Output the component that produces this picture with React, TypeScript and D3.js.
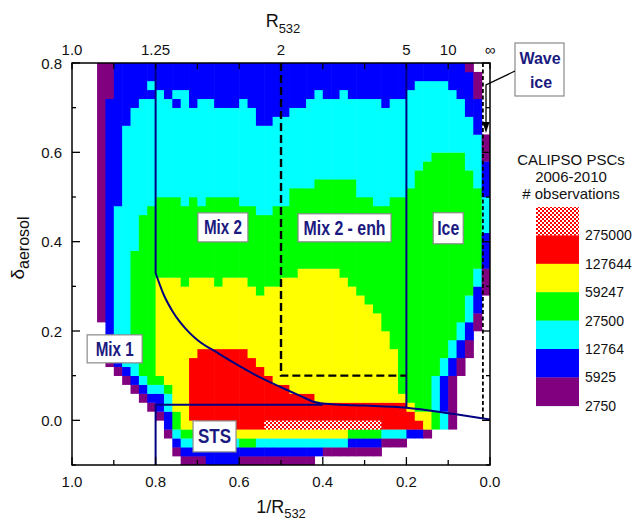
import React from "react";
import * as d3 from "d3";

const W = 636;
const H = 525;
const M = { left: 72, right: 490, top: 63, bottom: 465 };

// Histogram bins: 1/R532 in steps of 0.02 from 1.0 (column 0) to 0.0,
// δaerosol in steps of 0.02 from -0.1 upward (45 rows).
const INV_R_STEP = 0.02;
const DELTA_MIN = -0.1;
const DELTA_STEP = 0.02;

// Each column is a run-length list of count classes from the lowest δ bin upward:
// '.' none, p >=2750, b >=5925, c >=12764, g >=27500, y >=59247, r >=127644, h >=275000
const densityColumns: string[] = [
  ".45",
  ".45",
  ".45",
  ".16p29",
  ".11p1b29p4",
  ".10p1b1c17b16",
  ".9p1b1c27b7",
  ".8p1b1c2g12c16b5",
  ".7p1b1c1g18c13b4",
  ".6p1b1c1g20c12b1c1b2",
  ".5p1b2c1g1y11g9c12b3",
  ".3p1b2c2g1y12g9c11b4",
  ".1p1b1c1g2y15g9c10b1c1b3",
  "p1b1c1g1y16g9c13b3",
  "p1b1c1g1y1r7y9g9c10b5",
  "p1b1c1y1r9y8g8c12b4",
  "b2c1y1r9y8g9c11b4",
  "b2c1y1r9y7g10c10b5",
  "b2c1y1r9y8g9c10b5",
  "b2c1y1r9y8g9c10b5",
  "p1b1g1y1r9y8g8c12b4",
  "p1b1g1y1r8y8g9c11b5",
  "p1b1c1y1r7y8g9c10b7",
  "p1b1c1y1h1r5y10g8c10b7",
  "p1b1c1y1h1r4y11g9c10b6",
  "p1b1c1y1h1r4y12g8c10b6",
  "p1b1c1y1h1r3y13g10c9b5",
  "p1b1c1y1h1r3y14g9c9b5",
  "p1b1c1y1h1r3y14g9c10b4",
  ".1b1c1y1h1r2y15g10c10b3",
  ".1p1c1y1h1r2y15g10c9b4",
  ".1p1c1y1h1r2y15g10c9b4",
  ".1p1c1y1h1r2y14g11c10b3",
  ".1p1b1g1h1r2y13g12c9b4",
  ".1p1b1g1h1r2y12g11c11b4",
  ".1p1b1g1h1r2y11g12c11b4",
  ".1p1b1g1h1r2y10g12c12b4",
  ".2p1c1r3y8g14c11b5",
  ".2p1c1r3y6g17c11b4",
  ".2p1c1r3y1g22c11b4",
  ".3b1r2y1g24c11b3",
  ".3b1r1y1g27c10b2",
  ".3p1y2g28c9b2",
  ".4g2c4g25c8b2",
  ".4c2b4c2g23c8b2",
  ".4p6b2c2g21c7b3",
  ".10p2b2c2g19c6b4",
  ".12p2b2c3g14c6b5p1",
  ".15p2b3c2g9c6b4p3.1",
  ".19p3b4c4b4p3.8",
];

const levelColors: Record<string, string> = {
  p: "#800080",
  b: "#0000ff",
  c: "#00ffff",
  g: "#00ff00",
  y: "#ffff00",
  r: "#ff0000",
  h: "url(#hatch)",
};

// Legend, top to bottom, with the class boundary printed under each swatch
const legendCodes = ["h", "r", "y", "g", "c", "b", "p"];
const legendLabels = ["275000", "127644", "59247", "27500", "12764", "5925", "2750"];
const legendTitle = ["CALIPSO PSCs", "2006-2010", "# observations"];

// Axis labels
const invRLabels = [1.0, 0.8, 0.6, 0.4, 0.2, 0.0];
const rLabels: [number, string][] = [
  [1.0, "1.0"],
  [0.8, "1.25"],
  [0.5, "2"],
  [0.2, "5"],
  [0.1, "10"],
  [0.0, "\u221e"],
];
const deltaLabels = [0.8, 0.6, 0.4, 0.2, 0.0];

// Detection-threshold boundary (1/R532, δaerosol)
const thresholdCurve: [number, number][] = [
  [0.8, 0.33],
  [0.78, 0.28],
  [0.76, 0.245],
  [0.74, 0.218],
  [0.72, 0.197],
  [0.7, 0.18],
  [0.65, 0.15],
  [0.6, 0.122],
  [0.55, 0.096],
  [0.5, 0.074],
  [0.45, 0.053],
  [0.42, 0.041],
  [0.38, 0.036],
  [0.3, 0.033],
  [0.2, 0.028],
  [0.1, 0.016],
  [0.0, 0.002],
];

// Composition classes: label, centre (1/R532, δaerosol), box size
const regionLabels = [
  { text: "Mix 1", u: 0.898, d: 0.16, w: 55, h: 28, len: 38 },
  { text: "Mix 2", u: 0.639, d: 0.432, w: 50, h: 29, len: 38 },
  { text: "Mix 2 - enh", u: 0.348, d: 0.431, w: 93, h: 28, len: 82 },
  { text: "Ice", u: 0.1, d: 0.43, w: 30, h: 31, len: 22 },
  { text: "STS", u: 0.659, d: -0.036, w: 43, h: 31, len: 33 },
];

const NAVY = "#000080";
const LABEL_INK = "#1a1a80";
const FONT = "Arial, 'Liberation Sans', Helvetica, sans-serif";

export default function App() {
  const x = d3.scaleLinear().domain([1, 0]).range([M.left, M.right]);
  const y = d3.scaleLinear().domain([DELTA_MIN, 0.8]).range([M.bottom, M.top]);

  const cells: { key: string; code: string; x: number; w: number; y: number; h: number }[] = [];
  densityColumns.forEach((col, i) => {
    const x0 = x(1 - i * INV_R_STEP);
    const x1 = x(1 - (i + 1) * INV_R_STEP);
    let row = 0;
    for (const m of col.matchAll(/([.pbcgyrh])(\d+)/g)) {
      const n = +m[2];
      if (m[1] !== ".") {
        const yTop = y(DELTA_MIN + (row + n) * DELTA_STEP);
        const yBot = y(DELTA_MIN + row * DELTA_STEP);
        cells.push({ key: `${i}-${row}`, code: m[1], x: x0, w: x1 - x0, y: yTop, h: yBot - yTop });
      }
      row += n;
    }
  });

  const curvePath = d3
    .line<[number, number]>()
    .x((p) => x(p[0]))
    .y((p) => y(p[1]))
    .curve(d3.curveMonotoneX)(thresholdCurve) as string;

  const tenths = d3.range(0, 11).map((k) => k / 10);
  const deltaTicks = d3.range(-1, 9).map((k) => k / 10);

  const legendX = 536;
  const legendTop = 207;
  const swatchH = 28.4;

  return (
    <svg
      width={W}
      height={H}
      style={{ position: "absolute", left: 0, top: 0, background: "#fff" }}
      fontFamily={FONT}
    >
      <defs>
        <pattern id="hatch" width="4" height="4" patternUnits="userSpaceOnUse">
          <rect width="4" height="4" fill="#ffffff" />
          <rect width="2" height="2" fill="#ff0000" />
          <rect x="2" y="2" width="2" height="2" fill="#ff0000" />
        </pattern>
        <clipPath id="plot-clip">
          <rect x={M.left} y={M.top} width={M.right - M.left} height={M.bottom - M.top} />
        </clipPath>
      </defs>

      {/* density cells */}
      <g clipPath="url(#plot-clip)">
        {cells.map((c) => (
          <rect
            key={c.key}
            x={c.x}
            y={c.y}
            width={c.w + 0.6}
            height={c.h + 0.3}
            fill={levelColors[c.code]}
          />
        ))}
      </g>

      {/* composition boundaries */}
      <g clipPath="url(#plot-clip)" fill="none">
        <line x1={x(0.8)} x2={x(0.8)} y1={y(0.8)} y2={y(0.33)} stroke={NAVY} strokeWidth={2} />
        <path d={curvePath} stroke={NAVY} strokeWidth={2} />
        <polyline
          points={`${x(0.8)},${y(DELTA_MIN)} ${x(0.8)},${y(0.035)} ${x(0.4)},${y(0.035)}`}
          stroke={NAVY}
          strokeWidth={2}
        />
        <line x1={x(0.2)} x2={x(0.2)} y1={y(0.8)} y2={y(0.028)} stroke={NAVY} strokeWidth={2} />
        <polyline
          points={`${x(0.5)},${y(0.8)} ${x(0.5)},${y(0.1)} ${x(0.2)},${y(0.1)}`}
          stroke="#000"
          strokeWidth={2.4}
          strokeDasharray="8,4"
        />
        <line
          x1={x(0.017)}
          x2={x(0.017)}
          y1={y(0.8)}
          y2={y(0.004)}
          stroke="#000"
          strokeWidth={1.8}
          strokeDasharray="4,2.5"
        />
      </g>

      {/* frame */}
      <rect
        x={M.left}
        y={M.top}
        width={M.right - M.left}
        height={M.bottom - M.top}
        fill="none"
        stroke="#000"
        strokeWidth={1.5}
      />

      {/* ticks */}
      <g stroke="#000" strokeWidth={1.3}>
        {tenths.map((u, k) => (
          <line key={`b${k}`} x1={x(u)} x2={x(u)} y1={M.bottom} y2={M.bottom - (k % 2 === 0 ? 8 : 5)} />
        ))}
        {tenths.map((u, k) => (
          <line key={`t${k}`} x1={x(u)} x2={x(u)} y1={M.top} y2={M.top + 6} />
        ))}
        {deltaTicks.map((d, k) => {
          const major = Math.round(d * 10) % 2 === 0;
          return (
            <g key={`d${k}`}>
              <line x1={M.left} x2={M.left + (major ? 8 : 4)} y1={y(d)} y2={y(d)} />
              <line x1={M.right} x2={M.right - (major ? 8 : 4)} y1={y(d)} y2={y(d)} />
            </g>
          );
        })}
      </g>

      {/* tick labels */}
      <g fontSize={15} fill="#111">
        {invRLabels.map((u) => (
          <text key={`bl${u}`} x={x(u)} y={487} textAnchor="middle">
            {u.toFixed(1)}
          </text>
        ))}
        {rLabels.map(([u, t]) => (
          <text key={`tl${t}`} x={x(u)} y={55} textAnchor="middle">
            {t}
          </text>
        ))}
        {deltaLabels.map((d) => (
          <text key={`dl${d}`} x={62} y={y(d) + 5.5} textAnchor="end">
            {d.toFixed(1)}
          </text>
        ))}
      </g>

      {/* axis titles */}
      <text x={283} y={27} textAnchor="middle" fontSize={18} fill="#111">
        R<tspan dy={6} fontSize={13}>532</tspan>
      </text>
      <text x={281} y={513} textAnchor="middle" fontSize={18} fill="#111">
        1/R<tspan dy={5} fontSize={13}>532</tspan>
      </text>
      <text transform="translate(24,248) rotate(-90)" textAnchor="middle" fontSize={19} fill="#111">
        {"\u03b4"}
        <tspan dy={5} fontSize={16}>
          aerosol
        </tspan>
      </text>

      {/* class labels */}
      {regionLabels.map((l) => {
        const cx = x(l.u);
        const cy = y(l.d);
        return (
          <g key={l.text}>
            <rect
              x={cx - l.w / 2}
              y={cy - l.h / 2}
              width={l.w}
              height={l.h}
              fill="#fff"
              stroke="#8a8a8a"
              strokeWidth={1.2}
            />
            <text
              x={cx}
              y={cy + 7}
              textAnchor="middle"
              fontSize={20}
              fontWeight="bold"
              fill={LABEL_INK}
              textLength={l.len}
              lengthAdjust="spacingAndGlyphs"
            >
              {l.text}
            </text>
          </g>
        );
      })}

      {/* wave ice callout */}
      <rect x={515} y={43} width={49} height={53} fill="#fff" stroke="#8a8a8a" strokeWidth={1.2} />
      <text x={540} y={63.5} textAnchor="middle" fontSize={16} fontWeight="bold" fill={LABEL_INK}>
        Wave
      </text>
      <text x={541} y={88} textAnchor="middle" fontSize={16} fontWeight="bold" fill={LABEL_INK}>
        ice
      </text>
      <polyline points="515,71 486,85 486,124" fill="none" stroke="#000" strokeWidth={1.3} />
      <path d="M482.5,122 L489.5,122 L486,133 Z" fill="#000" />

      {/* legend */}
      <g fontSize={15} fill="#111" textAnchor="middle">
        {legendTitle.map((t, k) => (
          <text key={t} x={571} y={165 + k * 16.8}>
            {t}
          </text>
        ))}
      </g>
      {legendCodes.map((code, k) => (
        <g key={`lg${code}`}>
          <rect
            x={legendX}
            y={legendTop + k * swatchH}
            width={43}
            height={swatchH + 0.3}
            fill={levelColors[code]}
          />
          <text x={585} y={legendTop + (k + 1) * swatchH + 5} fontSize={14} fill="#111">
            {legendLabels[k]}
          </text>
        </g>
      ))}
    </svg>
  );
}
